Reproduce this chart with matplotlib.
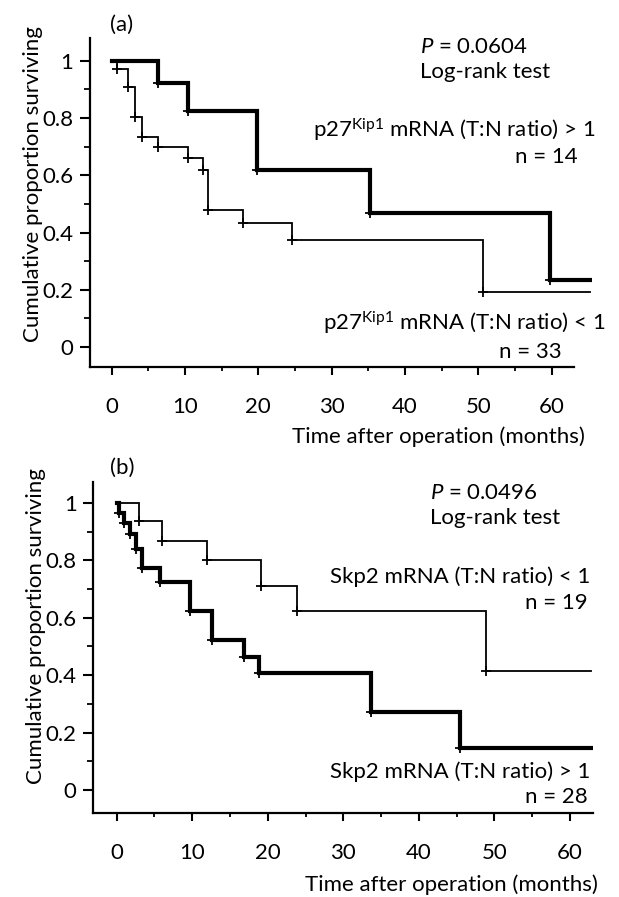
import numpy as np
import matplotlib
matplotlib.use('Agg')
import matplotlib.pyplot as plt
from matplotlib.ticker import FixedLocator, FixedFormatter

plt.rcParams['font.family'] = ['Lato', 'DejaVu Sans']
plt.rcParams['mathtext.fontset'] = 'custom'
plt.rcParams['mathtext.rm'] = 'Lato'
plt.rcParams['mathtext.it'] = 'Lato:italic'

# 数据
# 图 (a) p27Kip1
a_hi_t = [0, 6.3, 10.4, 19.8, 35.2, 59.8, 65.2]
a_hi_s = [1.0, 0.923, 0.826, 0.62, 0.47, 0.234, 0.234]
a_lo_t = [0, 0.7, 2.2, 3.2, 4.1, 6.3, 10.4, 12.5, 13.1, 17.9, 24.6, 50.6, 65.2]
a_lo_s = [1.0, 0.97, 0.908, 0.803, 0.733, 0.70, 0.66, 0.62, 0.479, 0.433, 0.374, 0.193, 0.193]

# 图 (b) Skp2
b_lo_t = [0, 2.9, 6.0, 12.0, 19.1, 23.9, 48.9, 62.8]
b_lo_s = [1.0, 0.936, 0.866, 0.80, 0.709, 0.622, 0.413, 0.413]
b_hi_t = [0, 0.3, 1.0, 1.8, 2.6, 3.4, 5.75, 9.7, 12.6, 16.8, 18.8, 33.6, 45.5, 62.8]
b_hi_s = [1.0, 0.964, 0.929, 0.893, 0.84, 0.773, 0.723, 0.625, 0.523, 0.465, 0.407, 0.273, 0.145, 0.145]

x_ticks = [0, 10, 20, 30, 40, 50, 60]
x_minor = [5, 15, 25, 35, 45, 55]
y_ticks = [0, 0.2, 0.4, 0.6, 0.8, 1.0]
y_labels = ['0', '0.2', '0.4', '0.6', '0.8', '1']
y_minor = [0.1, 0.3, 0.5, 0.7, 0.9]

W, H = 619, 897
fig = plt.figure(figsize=(W / 100, H / 100), dpi=100)

def fx(px):
    return px / W

def fy(py):
    return 1 - py / H

FS = 16

def km(ax, t, s, lw):
    ax.step(t, s, where='post', color='black', lw=lw, solid_joinstyle='miter')
    # 事件点标记
    ax.plot(t[1:-1], s[1:-1], ls='none', marker='+', color='black', ms=7, mew=1.3)

def setup(ax, xlim, ylim, xbound):
    ax.set_xlim(*xlim)
    ax.set_ylim(*ylim)
    for sp in ['top', 'right']:
        ax.spines[sp].set_visible(False)
    for sp in ['left', 'bottom']:
        ax.spines[sp].set_linewidth(1.6)
    ax.spines['bottom'].set_bounds(xlim[0], xbound)
    ax.xaxis.set_major_locator(FixedLocator(x_ticks))
    ax.xaxis.set_minor_locator(FixedLocator(x_minor))
    ax.yaxis.set_major_locator(FixedLocator(y_ticks))
    ax.yaxis.set_major_formatter(FixedFormatter(y_labels))
    ax.yaxis.set_minor_locator(FixedLocator(y_minor))
    ax.tick_params(axis='y', which='major', length=7, width=1.5, pad=5, labelsize=FS)
    ax.tick_params(axis='y', which='minor', length=4, width=1.3)
    ax.tick_params(axis='x', which='major', length=5.5, width=1.5, pad=16, labelsize=FS)
    ax.tick_params(axis='x', which='minor', length=3, width=1.3)

# ---- (a) ----
ax1 = fig.add_axes([fx(90), fy(367), fx(592) - fx(90), (367 - 38) / H])
setup(ax1, (-2.96, 65.5), (-0.07, 1.08), 63)
km(ax1, a_hi_t, a_hi_s, 3.0)
km(ax1, a_lo_t, a_lo_s, 1.3)

fig.text(fx(110), fy(25), '(a)', fontsize=FS, va='center', ha='left')
fig.text(fx(420), fy(47), '$P$ = 0.0604', fontsize=FS, va='center', ha='left')
fig.text(fx(420), fy(72), 'Log-rank test', fontsize=FS, va='center', ha='left')
fig.text(fx(595), fy(130), r'p27$^{\mathrm{Kip1}}$ mRNA (T:N ratio) > 1', fontsize=FS, va='center', ha='right')
fig.text(fx(578), fy(157), 'n = 14', fontsize=FS, va='center', ha='right')
fig.text(fx(605), fy(323), r'p27$^{\mathrm{Kip1}}$ mRNA (T:N ratio) < 1', fontsize=FS, va='center', ha='right')
fig.text(fx(562), fy(352), 'n = 33', fontsize=FS, va='center', ha='right')
fig.text(fx(585), fy(437), 'Time after operation (months)', fontsize=FS, va='center', ha='right')
fig.text(fx(33), fy(184), 'Cumulative proportion surviving', fontsize=FS, va='center', ha='center', rotation=90)

# ---- (b) ----
ax2 = fig.add_axes([fx(93.3), fy(812.7), fx(592.7) - fx(93.3), (812.7 - 481.7) / H])
setup(ax2, (-3.1, 63), (-0.079, 1.074), 63)
km(ax2, b_lo_t, b_lo_s, 1.3)
km(ax2, b_hi_t, b_hi_s, 3.0)

fig.text(fx(110), fy(468), '(b)', fontsize=FS, va='center', ha='left')
fig.text(fx(430), fy(493), '$P$ = 0.0496', fontsize=FS, va='center', ha='left')
fig.text(fx(430), fy(518), 'Log-rank test', fontsize=FS, va='center', ha='left')
fig.text(fx(590), fy(577), 'Skp2 mRNA (T:N ratio) < 1', fontsize=FS, va='center', ha='right')
fig.text(fx(588), fy(603), 'n = 19', fontsize=FS, va='center', ha='right')
fig.text(fx(590), fy(772), 'Skp2 mRNA (T:N ratio) > 1', fontsize=FS, va='center', ha='right')
fig.text(fx(588), fy(797), 'n = 28', fontsize=FS, va='center', ha='right')
fig.text(fx(598), fy(885), 'Time after operation (months)', fontsize=FS, va='center', ha='right')
fig.text(fx(36), fy(626), 'Cumulative proportion surviving', fontsize=FS, va='center', ha='center', rotation=90)

fig.savefig('out.png', dpi=100)
